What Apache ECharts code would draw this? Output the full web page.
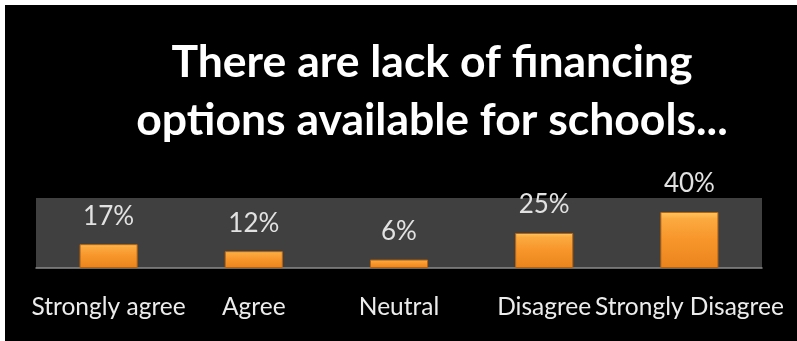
<!DOCTYPE html>
<html>
<head>
<meta charset="utf-8">
<script src="https://cdn.jsdelivr.net/npm/echarts@6/dist/echarts.min.js"></script>
<style>
html, body { margin: 0; padding: 0; background: #fff; }
#chart { position: absolute; left: 5px; top: 5px; width: 792px; height: 336px; background: #000; }
</style>
</head>
<body>
<div id="chart"></div>
<script>
var titleText = 'There are lack of financing\noptions available for schools...';
var categories = ['Strongly agree', 'Agree', 'Neutral', 'Disagree', 'Strongly Disagree'];
var percents = [17, 12, 6, 25, 40];
var yTicks = [0, 50];

var myChart = echarts.init(document.getElementById('chart'));

var barColor = new echarts.graphic.LinearGradient(0, 0, 0, 1, [
    { offset: 0, color: '#ffc760' },
    { offset: 0.12, color: '#fbaa40' },
    { offset: 0.5, color: '#f7952a' },
    { offset: 1, color: '#e9841c' }
]);

var option = {
    backgroundColor: '#000',
    title: {
        text: titleText,
        left: 422,
        textAlign: 'center',
        top: 24,
        textStyle: {
            color: '#fff',
            fontFamily: 'Lato',
            fontWeight: 'bold',
            fontSize: 44.5,
            lineHeight: 58
        }
    },
    grid: {
        left: 31,
        right: 35,
        top: 193,
        bottom: 73,
        show: true,
        backgroundColor: '#404040',
        borderWidth: 0
    },
    xAxis: {
        type: 'category',
        data: categories,
        axisLine: { show: true, lineStyle: { color: '#8a8a8a', width: 1.5 } },
        axisTick: { show: false },
        axisLabel: {
            color: '#ececec',
            fontFamily: 'Lato',
            fontSize: 24.5,
            margin: 27,
            interval: 0
        }
    },
    yAxis: {
        type: 'value',
        min: yTicks[0],
        max: yTicks[1],
        show: false,
        splitLine: { show: false }
    },
    series: [
        {
            type: 'bar',
            data: percents,
            barWidth: '40%',
            itemStyle: {
                color: barColor,
                borderColor: '#b9630f',
                borderWidth: 1
            },
            label: {
                show: true,
                position: 'top',
                distance: 15,
                formatter: '{c}%',
                color: '#e2e2e2',
                fontFamily: 'Lato',
                fontSize: 26
            }
        }
    ]
};

myChart.setOption(option);
</script>
</body>
</html>
